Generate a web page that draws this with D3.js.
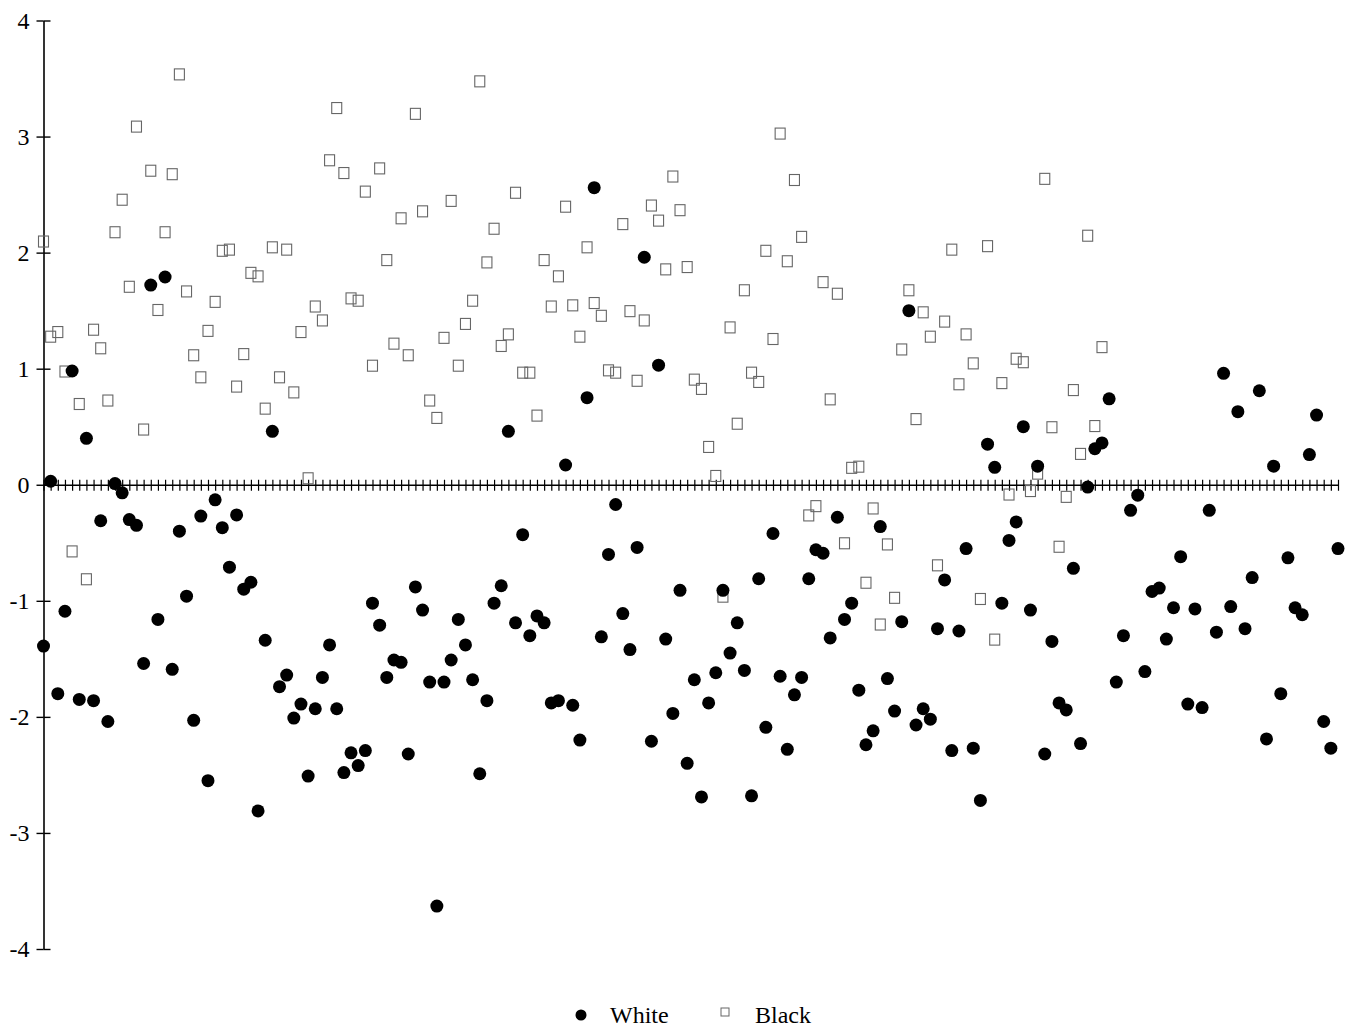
<!DOCTYPE html>
<html>
<head>
<meta charset="utf-8">
<script src="https://cdn.jsdelivr.net/npm/d3@7"></script>
<style>
  body { margin: 0; background: #fff; }
  svg { display: block; }
  text { font-family: "Liberation Serif", "Times New Roman", serif; }
</style>
</head>
<body>
<svg></svg>
<script>
// values, one per case along the x axis
let whiteValues = [
  -1.39, 0.03, -1.80, -1.09, 0.98, -1.85, 0.40, -1.86, -0.31, -2.04,
  0.01, -0.07, -0.30, -0.35, -1.54, 1.72, -1.16, 1.79, -1.59, -0.40,
  -0.96, -2.03, -0.27, -2.55, -0.13, -0.37, -0.71, -0.26, -0.90, -0.84,
  -2.81, -1.34, 0.46, -1.74, -1.64, -2.01, -1.89, -2.51, -1.93, -1.66,
  -1.38, -1.93, -2.48, -2.31, -2.42, -2.29, -1.02, -1.21, -1.66, -1.51,
  -1.53, -2.32, -0.88, -1.08, -1.70, -3.63, -1.70, -1.51, -1.16, -1.38,
  -1.68, -2.49, -1.86, -1.02, -0.87, 0.46, -1.19, -0.43, -1.30, -1.13,
  -1.19, -1.88, -1.86, 0.17, -1.90, -2.20, 0.75, 2.56, -1.31, -0.60,
  -0.17, -1.11, -1.42, -0.54, 1.96, -2.21, 1.03, -1.33, -1.97, -0.91,
  -2.40, -1.68, -2.69, -1.88, -1.62, -0.91, -1.45, -1.19, -1.60, -2.68,
  -0.81, -2.09, -0.42, -1.65, -2.28, -1.81, -1.66, -0.81, -0.56, -0.59,
  -1.32, -0.28, -1.16, -1.02, -1.77, -2.24, -2.12, -0.36, -1.67, -1.95,
  -1.18, 1.50, -2.07, -1.93, -2.02, -1.24, -0.82, -2.29, -1.26, -0.55,
  -2.27, -2.72, 0.35, 0.15, -1.02, -0.48, -0.32, 0.50, -1.08, 0.16,
  -2.32, -1.35, -1.88, -1.94, -0.72, -2.23, -0.02, 0.31, 0.36, 0.74,
  -1.70, -1.30, -0.22, -0.09, -1.61, -0.92, -0.89, -1.33, -1.06, -0.62,
  -1.89, -1.07, -1.92, -0.22, -1.27, 0.96, -1.05, 0.63, -1.24, -0.80,
  0.81, -2.19, 0.16, -1.80, -0.63, -1.06, -1.12, 0.26, 0.60, -2.04,
  -2.27, -0.55
];

let blackValues = [
  2.10, 1.28, 1.32, 0.98, -0.57, 0.70, -0.81, 1.34, 1.18, 0.73,
  2.18, 2.46, 1.71, 3.09, 0.48, 2.71, 1.51, 2.18, 2.68, 3.54,
  1.67, 1.12, 0.93, 1.33, 1.58, 2.02, 2.03, 0.85, 1.13, 1.83,
  1.80, 0.66, 2.05, 0.93, 2.03, 0.80, 1.32, 0.06, 1.54, 1.42,
  2.80, 3.25, 2.69, 1.61, 1.59, 2.53, 1.03, 2.73, 1.94, 1.22,
  2.30, 1.12, 3.20, 2.36, 0.73, 0.58, 1.27, 2.45, 1.03, 1.39,
  1.59, 3.48, 1.92, 2.21, 1.20, 1.30, 2.52, 0.97, 0.97, 0.60,
  1.94, 1.54, 1.80, 2.40, 1.55, 1.28, 2.05, 1.57, 1.46, 0.99,
  0.97, 2.25, 1.50, 0.90, 1.42, 2.41, 2.28, 1.86, 2.66, 2.37,
  1.88, 0.91, 0.83, 0.33, 0.08, -0.96, 1.36, 0.53, 1.68, 0.97,
  0.89, 2.02, 1.26, 3.03, 1.93, 2.63, 2.14, -0.26, -0.18, 1.75,
  0.74, 1.65, -0.50, 0.15, 0.16, -0.84, -0.20, -1.20, -0.51, -0.97,
  1.17, 1.68, 0.57, 1.49, 1.28, -0.69, 1.41, 2.03, 0.87, 1.30,
  1.05, -0.98, 2.06, -1.33, 0.88, -0.08, 1.09, 1.06, -0.05, 0.10,
  2.64, 0.50, -0.53, -0.10, 0.82, 0.27, 2.15, 0.51, 1.19
];

let yTicks = [-4, -3, -2, -1, 0, 1, 2, 3, 4];
let legendLabels = ["White", "Black"];

let width = 1347;
let height = 1029;

let svg = d3.select("svg")
            .attr("width", width)
            .attr("height", height)

let xScale = d3.scaleLinear()
                .domain([0, whiteValues.length - 1])
                .range([43.5, 1338])

let yScale = d3.scaleLinear()
                .domain([-4, 4])
                .range([949, 20.5])

let yAxis = d3.axisLeft(yScale)
                .tickValues(yTicks)
                .tickFormat(d => String(d))   // plain hyphen, as in the print
                .tickSize(7)
                .tickSizeOuter(0)
                .tickPadding(7)

let xAxis = d3.axisBottom(xScale)
                .tickValues(d3.range(whiteValues.length))
                .tickFormat("")
                .tickSize(6)
                .tickSizeOuter(0)

let gy = svg.append("g")
    .attr("transform", "translate(" + xScale(0) + ", 0)")
    .call(yAxis)

gy.select(".domain").attr("stroke-width", 1.6)
gy.selectAll(".tick line").attr("stroke-width", 1.4)
// ticks cross the axis on both sides
gy.selectAll(".tick").append("line")
    .attr("x2", 7)
    .attr("stroke", "#000")
    .attr("stroke-width", 1.4)
gy.selectAll(".tick text")
    .style("font-size", "24px")
    .attr("fill", "#000")

let gx = svg.append("g")
    .attr("transform", "translate(0, " + yScale(0) + ")")
    .call(xAxis)

gx.select(".domain").attr("stroke-width", 1.6)
gx.selectAll(".tick line")
    .attr("y1", -5)
    .attr("stroke-width", 1.2)

// black group: open squares
let sq = 10;
svg.append("g")
    .selectAll("rect")
    .data(blackValues)
    .enter()
    .append("rect")
    .attr("x", (d, i) => xScale(i) - sq / 2)
    .attr("y", d => yScale(d) - sq / 2)
    .attr("width", sq)
    .attr("height", sq + 1)
    .attr("fill", "none")
    .attr("stroke", "#666")
    .attr("stroke-width", 1.1)

// white group: filled dots
svg.append("g")
    .selectAll("circle")
    .data(whiteValues)
    .enter()
    .append("circle")
    .attr("cx", (d, i) => xScale(i))
    .attr("cy", d => yScale(d))
    .attr("r", 6.5)
    .attr("fill", "#000")

// legend
let legend = svg.append("g")

legend.append("circle")
    .attr("cx", 581)
    .attr("cy", 1015)
    .attr("r", 5.5)
    .attr("fill", "#000")

legend.append("text")
    .attr("x", 610)
    .attr("y", 1023)
    .style("font-size", "24px")
    .text(legendLabels[0])

legend.append("rect")
    .attr("x", 721)
    .attr("y", 1008)
    .attr("width", 8)
    .attr("height", 8)
    .attr("fill", "none")
    .attr("stroke", "#666")
    .attr("stroke-width", 1)

legend.append("text")
    .attr("x", 755)
    .attr("y", 1023)
    .style("font-size", "24px")
    .text(legendLabels[1])
</script>
</body>
</html>
